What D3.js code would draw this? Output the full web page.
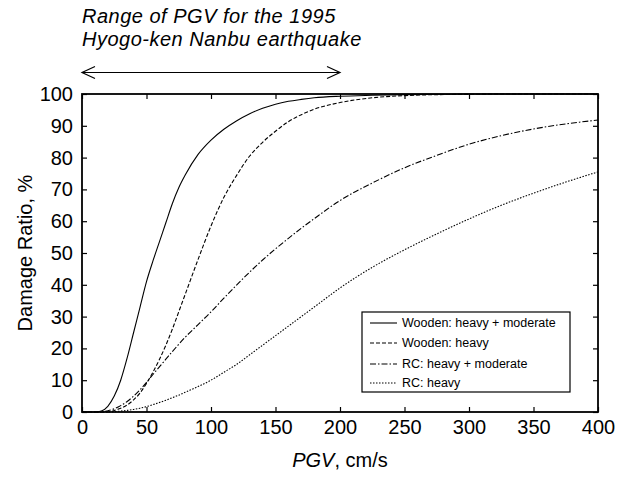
<!DOCTYPE html>
<html><head><meta charset="utf-8">
<script src="https://cdn.jsdelivr.net/npm/d3@7"></script>
<style>body{margin:0;background:#fff} text{font-family:"Liberation Sans",Arial,sans-serif;fill:#000}</style>
</head><body><svg id="c" width="632" height="483"></svg>
<script>
const xTicks = [0,50,100,150,200,250,300,350,400];
const yTicks = [0,10,20,30,40,50,60,70,80,90,100];
const pgv = [0,10,15,20,25,30,35,40,45,50,55,60,65,70,75,80,90,100,110,120,130,140,150,160,170,180,200,225,250,275,300,325,350,375,400];
const woodenHM = [0,0,0.3,1.8,5,10,17,25,33,41,47.5,53.5,59.5,65.5,70.5,74.5,81,85.5,88.9,91.6,93.8,95.5,96.8,97.7,98.3,98.8,99.3,99.6,99.8,99.9,100,100,100,100,100];
const woodenH  = [0,0,0,0,0.5,1.2,2.2,3.8,6,9,12.5,16.5,21,26,31.5,37,48,58.5,67.5,74.5,80.5,84.8,88.3,91.3,93.5,95.2,97.3,98.8,99.5,99.8,99.9,100,100,100,100];
const rcHM     = [0,0,0,0.4,1,2,3.3,5,7,9.3,11.8,14.2,16.6,19,21.3,23.5,27.5,31.5,35.8,40,44,47.8,51.3,54.6,57.8,60.8,66.5,72,76.8,80.7,84.2,86.9,89,90.6,91.8];
const rcH      = [0,0,0,0,0.1,0.3,0.5,0.8,1.2,1.7,2.3,3,3.7,4.5,5.3,6.2,8,10,12.5,15,18,21,24,27,30,33,39,45.5,51,56,60.7,65,68.8,72.3,75.5];
const seriesNames = ["Wooden: heavy + moderate","Wooden: heavy","RC: heavy + moderate","RC: heavy"];
const seriesValues = [woodenHM, woodenH, rcHM, rcH];
const dashes = [null, "4,2", "6,2,1.5,2", "1.5,1.5"];
const legendY = [323, 343, 364, 383];
const rangeArrow = [0, 200];

const svg = d3.select("#c");
const L=82, R=598, T=94, B=412;
const x = d3.scaleLinear().domain([0,400]).range([L,R]);
const y = d3.scaleLinear().domain([0,100]).range([B,T]);

// axes
const fs = "20px";
const gl = svg.append("g").attr("transform",`translate(${L},0)`)
  .call(d3.axisLeft(y).tickValues(yTicks).tickSize(-5).tickPadding(9));
const gb = svg.append("g").attr("transform",`translate(0,${B})`)
  .call(d3.axisBottom(x).tickValues(xTicks).tickSize(-5).tickPadding(8));
const gt = svg.append("g").attr("transform",`translate(0,${T})`)
  .call(d3.axisTop(x).tickValues(xTicks).tickSize(-5).tickFormat(""));
const gr = svg.append("g").attr("transform",`translate(${R},0)`)
  .call(d3.axisRight(y).tickValues(yTicks).tickSize(-5).tickFormat(""));
[gl,gb,gt,gr].forEach(g=>{
  g.select(".domain").remove();
  g.selectAll(".tick line").attr("stroke","#000").attr("stroke-width",1.2);
  g.selectAll("text").attr("font-size",fs).attr("font-family",'"Liberation Sans",Arial,sans-serif').attr("fill","#000");
});

// curves
const line = d3.line().x(d=>x(d[0])).y(d=>y(d[1])).curve(d3.curveMonotoneX);
seriesValues.forEach((vals,i)=>{
  svg.append("path").datum(pgv.map((p,j)=>[p,vals[j]]))
    .attr("d",line).attr("fill","none").attr("stroke","#000")
    .attr("stroke-width",1.1).attr("stroke-dasharray",dashes[i]);
});

// frame
svg.append("rect").attr("x",L).attr("y",T).attr("width",R-L).attr("height",B-T)
  .attr("fill","none").attr("stroke","#000").attr("stroke-width",1.8);

// legend
svg.append("rect").attr("x",362).attr("y",312).attr("width",208).attr("height",80)
  .attr("fill","#fff").attr("stroke","#000").attr("stroke-width",1.2);
seriesNames.forEach((n,i)=>{
  svg.append("line").attr("x1",370).attr("x2",397).attr("y1",legendY[i]).attr("y2",legendY[i])
    .attr("stroke","#000").attr("stroke-width",1.1).attr("stroke-dasharray",dashes[i]);
  svg.append("text").attr("x",402).attr("y",legendY[i]).attr("dy","0.35em")
    .attr("font-size","12.5px").text(n);
});

// axis titles
svg.append("text").attr("transform",`translate(25,${(T+B)/2}) rotate(-90)`)
  .attr("text-anchor","middle").attr("dy","0.35em").attr("font-size","20px").text("Damage Ratio, %");
const xl = svg.append("text").attr("x",(L+R)/2).attr("y",467).attr("text-anchor","middle").attr("font-size","20px");
xl.append("tspan").attr("font-style","italic").text("PGV");
xl.append("tspan").text(", cm/s");

// annotation
svg.append("text").attr("x",L).attr("y",23).attr("font-size","20px").attr("letter-spacing","0.5px").attr("font-style","italic").text("Range of PGV for the 1995");
svg.append("text").attr("x",L).attr("y",46).attr("font-size","20px").attr("letter-spacing","0.5px").attr("font-style","italic").text("Hyogo-ken Nanbu earthquake");
const ay = 72.5, x0 = x(rangeArrow[0]), x1 = x(rangeArrow[1]);
const ag = svg.append("g").attr("stroke","#000").attr("stroke-width",1.2).attr("fill","none");
ag.append("line").attr("x1",x0).attr("x2",x1).attr("y1",ay).attr("y2",ay);
ag.append("path").attr("d",`M${x0+13},${ay-6}L${x0},${ay}L${x0+13},${ay+6}`);
ag.append("path").attr("d",`M${x1-13},${ay-6}L${x1},${ay}L${x1-13},${ay+6}`);
</script></body></html>
